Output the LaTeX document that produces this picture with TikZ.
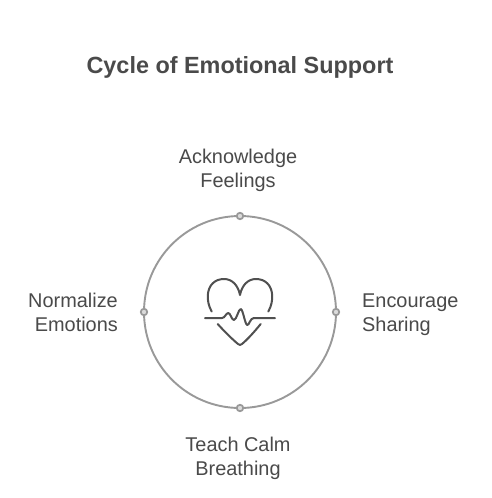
\documentclass[tikz,border=0pt]{standalone}
\usepackage{fontspec}
\setmainfont{Liberation Sans}
\definecolor{ink}{HTML}{4A4A4A}
\definecolor{ring}{HTML}{999999}
\definecolor{icon}{HTML}{505050}
\tikzset{
  lbl/.style={text=ink,font=\fontsize{19.9}{24}\selectfont,inner sep=0pt,align=center},
  lblL/.style={lbl,align=right,anchor=east},
  lblR/.style={lbl,align=left,anchor=west},
  ttl/.style={text=ink,font=\fontsize{23.4}{29}\selectfont\bfseries,inner sep=0pt},
  dot/.style={circle,draw=ring,fill=ring!35,line width=1.7pt,minimum size=6.5pt,inner sep=0pt},
  ringline/.style={draw=ring,line width=1.9pt},
  iconline/.style={draw=icon,line width=2pt,line cap=round,line join=round}
}
\begin{document}
\begin{tikzpicture}[x=1pt,y=-1pt]
\useasboundingbox (0,0) rectangle (492,498);
\fill[white] (0,0) rectangle (492,498);
\node[ttl] (title) at (240,67.5) {Cycle of Emotional Support};
\draw[ringline] (240,312) circle (96);
\node[dot] (dt) at (240,216) {};
\node[dot] (dr) at (336,312) {};
\node[dot] (db) at (240,408) {};
\node[dot] (dl) at (144,312) {};
\node[lbl] (ack) at (238,170.5) {Acknowledge\\Feelings};
\node[lblR] (enc) at (362,314.5) {Encourage\\Sharing};
\node[lbl] (tea) at (238,458.5) {Teach Calm\\Breathing};
\node[lblL] (nor) at (118,312.5) {Normalize\\Emotions};
% heart icon
\draw[iconline] (211.7,311.5) .. controls (208.5,306) and (207.5,300) .. (207.8,295)
  .. controls (208.5,285) and (215,279) .. (224,279)
  .. controls (232,279) and (238,285) .. (240,295)
  .. controls (242,285) and (248,279) .. (256,279)
  .. controls (265,279) and (271.5,285) .. (272.2,295)
  .. controls (272.5,300) and (271.5,306) .. (268.3,311.5);
\draw[iconline] (205,318) -- (222,318) .. controls (225,318) and (226,313) .. (228.3,313)
  .. controls (230.5,313) and (231.5,320) .. (234,320)
  .. controls (236.5,320) and (238.5,309) .. (240.7,309)
  .. controls (243,309) and (245,325) .. (247.3,325)
  .. controls (249.5,325) and (250,318) .. (254,318) -- (275,318);
\draw[iconline] (217.7,324) .. controls (224,331) and (232,339) .. (238,344)
  .. controls (239.5,345.3) and (240.5,345.3) .. (242,344)
  .. controls (248,339) and (255,331) .. (260.7,324);
\end{tikzpicture}
\end{document}
